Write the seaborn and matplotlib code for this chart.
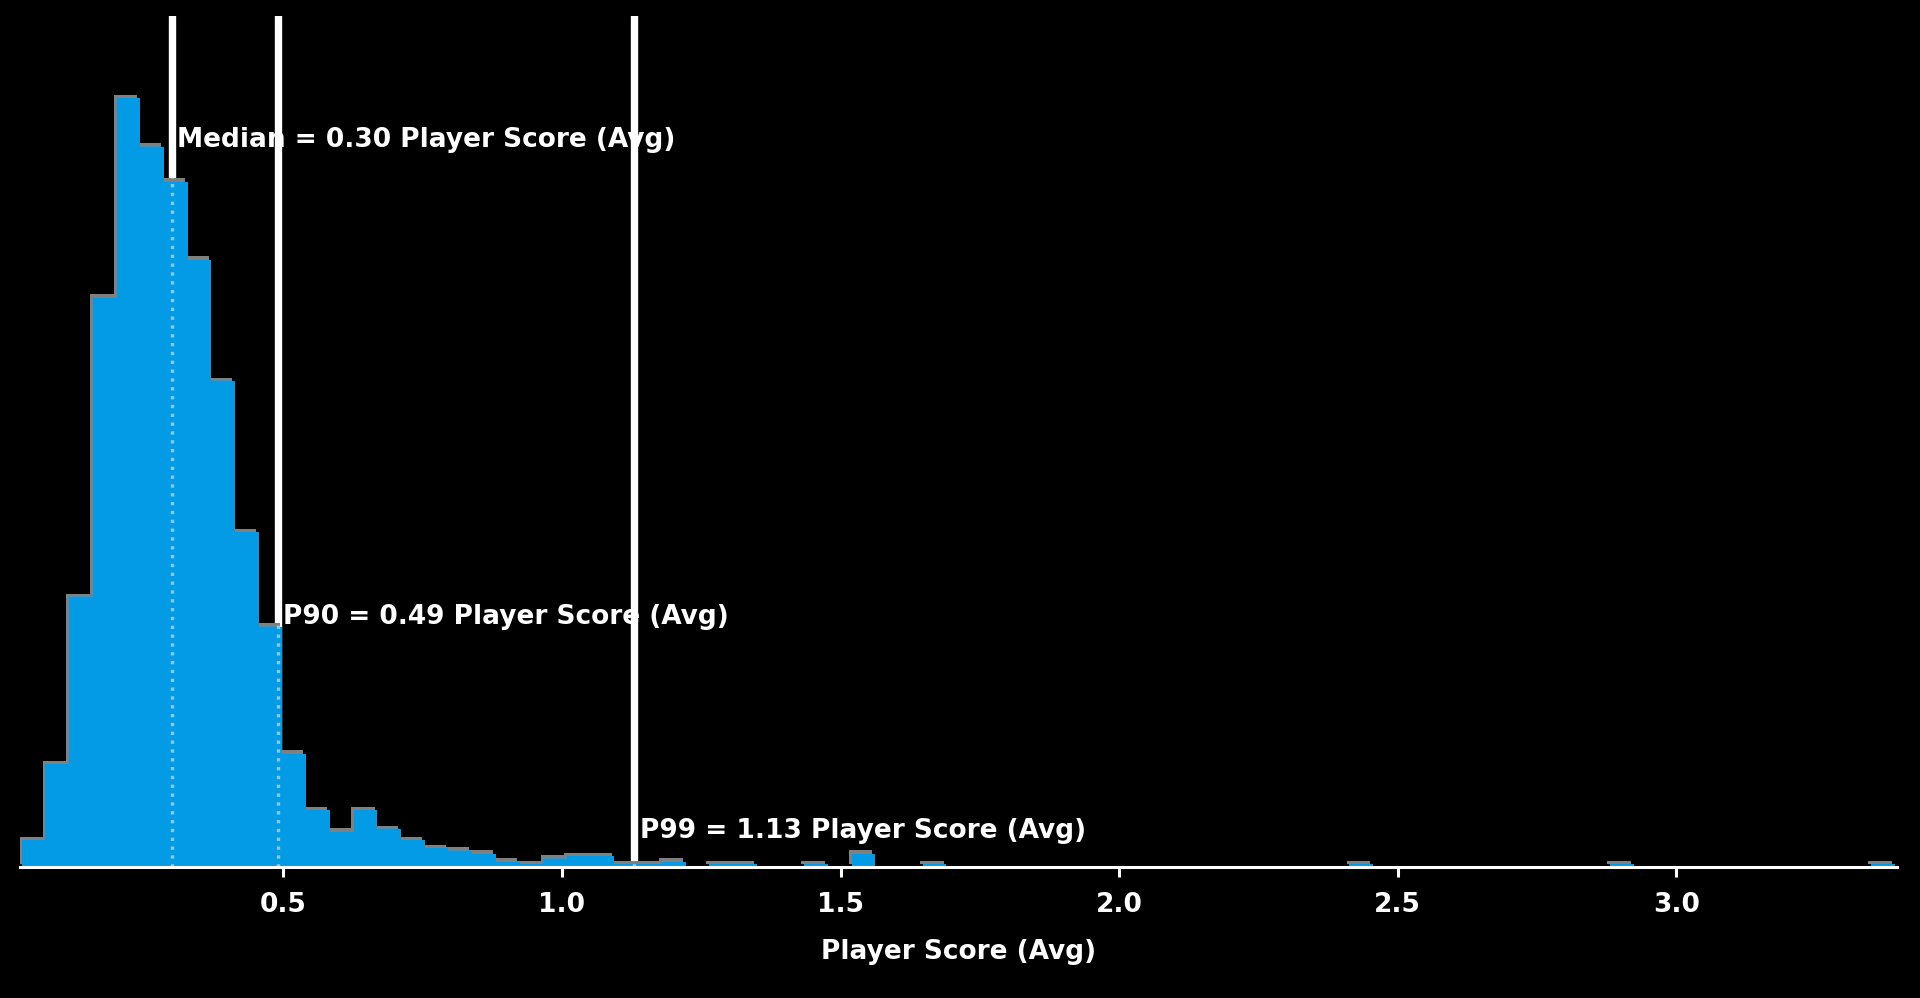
import matplotlib
matplotlib.use("Agg")
import matplotlib.pyplot as plt
import matplotlib.patheffects as pe
import matplotlib.transforms as mtransforms
import numpy as np
import pandas as pd
import seaborn as sns

# ---- data ----
bin_start = 0.0305
bin_width = 0.04255
counts = [10, 38, 100, 211, 285, 267, 254, 225, 180, 124, 89, 42, 21, 13, 21, 14,
          10, 7, 6, 5, 2, 1, 3, 4, 4, 1, 1, 2,
          0, 1, 1, 0, 0, 1, 0, 5, 0, 0, 1,
          0, 0, 0, 0, 0, 0, 0, 0, 0, 0, 0, 0, 0, 0, 0, 0, 0,
          1,
          0, 0, 0, 0, 0, 0, 0, 0, 0, 0,
          1,
          0, 0, 0, 0, 0, 0, 0, 0, 0, 0,
          1]
stat_names = ["Median", "P90", "P99"]
stat_values = [0.30, 0.49, 1.13]
stat_text_y = [0.846, 0.286, 0.034]
metric_label = "Player Score (Avg)"
tick_values = [0.5, 1.0, 1.5, 2.0, 2.5, 3.0]
tick_labels = ["0.5", "1.0", "1.5", "2.0", "2.5", "3.0"]

edges = [float(e) for e in bin_start + bin_width * np.arange(len(counts) + 1)]
centers = [(a + b) / 2 for a, b in zip(edges[:-1], edges[1:])]
df = pd.DataFrame({"value": centers, "count": counts})

sns.set_theme(style="white")
plt.rcParams["font.family"] = ["DejaVu Sans"]

fig = plt.figure(figsize=(19.2, 9.98), dpi=100, facecolor="black")
ax = fig.add_axes([20 / 1920, 131 / 998, 1877 / 1920, 851 / 998])
ax.set_facecolor("black")

# vertical reference lines (behind the histogram)
for v in stat_values:
    ax.axvline(v, color="white", lw=5.3, zorder=1)

sns.histplot(data=df, x="value", weights="count", bins=edges, element="step",
             fill=True, color="#039BE5", alpha=1, linewidth=0, ax=ax, zorder=2)
for coll in ax.collections:
    coll.set_path_effects([
        pe.SimplePatchShadow(offset=(-2, 2.5), shadow_rgbFace="#808080", alpha=1.0),
        pe.Normal(),
    ])

# dotted continuation visible through the bars
for v in stat_values:
    ax.axvline(v, color="white", alpha=0.5, lw=2.4, ls=":", zorder=3)

# annotations
xt = ax.get_xaxis_transform()
off = mtransforms.offset_copy(xt, fig=fig, x=4, y=0, units="points")
for name, v, yy in zip(stat_names, stat_values, stat_text_y):
    ax.text(v, yy, f"{name} = {v:.2f} {metric_label}", transform=off,
            color="white", fontsize=19, fontweight="bold",
            ha="left", va="baseline", zorder=4)

ax.set_xlim((20 - 4.7) / 557.2, (1897 - 4.7) / 557.2)
ax.set_ylim(0, 315.4)

for s in ["left", "top", "right"]:
    ax.spines[s].set_visible(False)
ax.spines["bottom"].set_color("white")
ax.spines["bottom"].set_linewidth(2.2)
ax.spines["bottom"].set_zorder(5)

ax.set_yticks([])
ax.set_ylabel("")
ax.set_xticks(tick_values, tick_labels)
ax.tick_params(axis="x", colors="white", length=7, width=2.2, labelsize=19, pad=11,
               bottom=True, direction="out")
for lab in ax.get_xticklabels():
    lab.set_fontweight("bold")
ax.set_xlabel(metric_label, color="white", fontsize=19, fontweight="bold", labelpad=15)

fig.savefig("out.png", dpi=100, facecolor="black")
